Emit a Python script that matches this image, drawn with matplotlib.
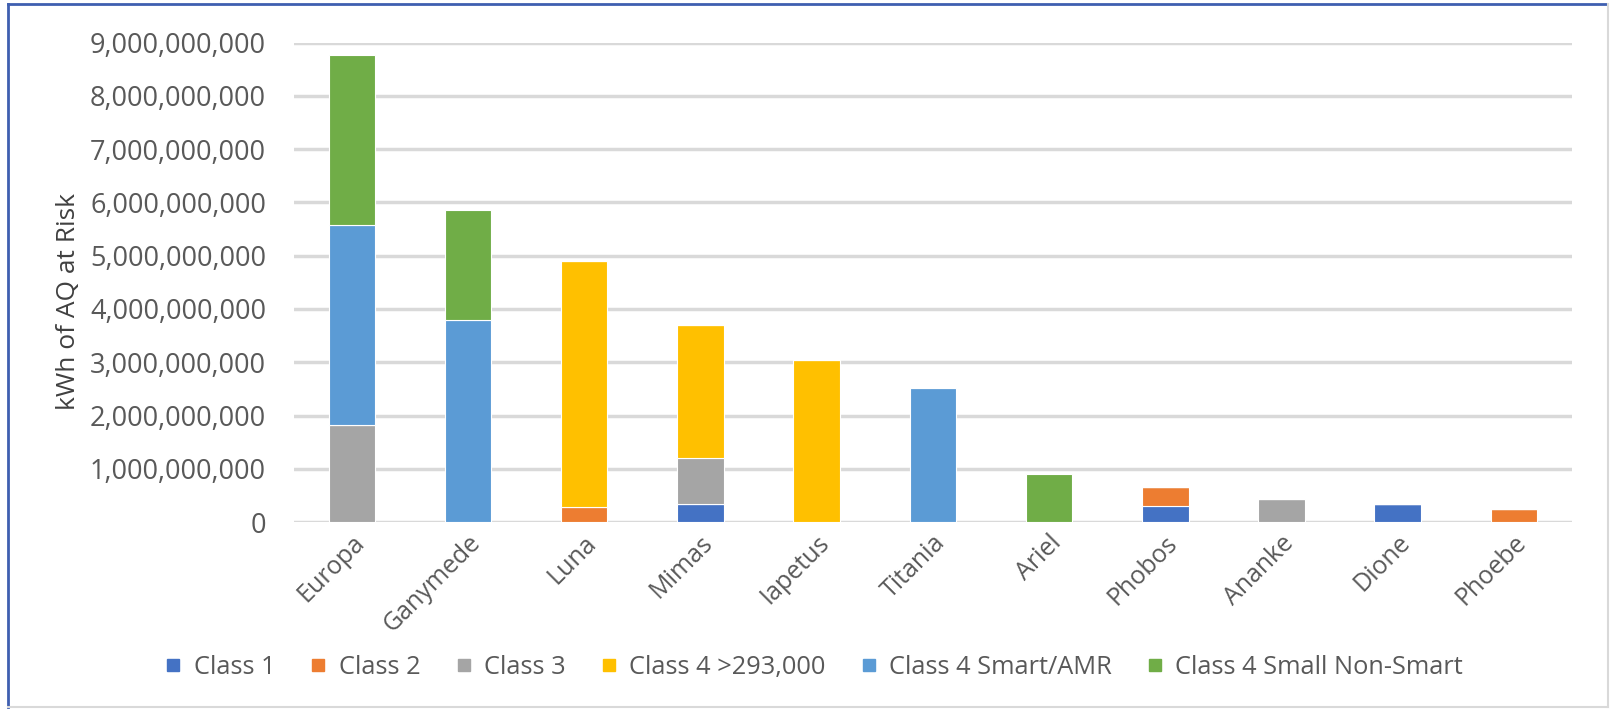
import matplotlib
matplotlib.use("Agg")
import matplotlib.pyplot as plt
from matplotlib.lines import Line2D
from matplotlib.ticker import FuncFormatter
import numpy as np

plt.rcParams['font.family'] = ['Open Sans', 'DejaVu Sans']

moons = ['Europa', 'Ganymede', 'Luna', 'Mimas', 'Iapetus', 'Titania',
         'Ariel', 'Phobos', 'Ananke', 'Dione', 'Phoebe']

# kWh of AQ at risk, per class
class1 = [0, 0, 0, 0.33e9, 0, 0, 0, 0.30e9, 0, 0.33e9, 0]
class2 = [0, 0, 0.28e9, 0, 0, 0, 0, 0.36e9, 0, 0, 0.25e9]
class3 = [1.82e9, 0, 0, 0.88e9, 0, 0, 0, 0, 0.44e9, 0, 0]
class4_large = [0, 0, 4.63e9, 2.49e9, 3.04e9, 0, 0, 0, 0, 0, 0]
class4_smart = [3.75e9, 3.79e9, 0, 0, 0, 2.52e9, 0, 0, 0, 0, 0]
class4_small = [3.20e9, 2.06e9, 0, 0, 0, 0, 0.90e9, 0, 0, 0, 0]

series = [
    ('Class 1', class1, '#4472C4'),
    ('Class 2', class2, '#ED7D31'),
    ('Class 3', class3, '#A5A5A5'),
    ('Class 4 >293,000', class4_large, '#FFC000'),
    ('Class 4 Smart/AMR', class4_smart, '#5B9BD5'),
    ('Class 4 Small Non-Smart', class4_small, '#70AD47'),
]

fig = plt.figure(figsize=(16.1, 7.09), dpi=100)
ax = fig.add_axes([0.1824, 0.2637, 0.7940, 0.6761])

x = np.arange(len(moons))
bottom = np.zeros(len(moons))
handles = []
for name, vals, col in series:
    vals = np.array(vals)
    ax.bar(x, vals, width=0.4, bottom=bottom, color=col, edgecolor='white',
           linewidth=0.8, zorder=3)
    bottom += vals
    handles.append(Line2D([], [], marker='s', linestyle='none', markersize=8,
                          markerfacecolor=col, markeredgecolor=col, label=name))

ax.set_xlim(-0.5, len(moons) - 0.5)
ax.set_ylim(0, 9e9)
ax.set_yticks(np.arange(0, 9.01e9, 1e9))
ax.yaxis.set_major_formatter(FuncFormatter(lambda v, p: f'{int(round(v)):,}'))
ax.grid(axis='y', color='#D9D9D9', linewidth=2.5, zorder=0)
for s in ax.spines.values():
    s.set_visible(False)
ax.tick_params(axis='both', length=0, colors='#595959')
ax.tick_params(axis='y', pad=20, labelsize=19.5)
ax.set_xticks(x)
ax.set_xticklabels(moons, rotation=45, ha='right', va='top',
                   rotation_mode='anchor', fontsize=18)
ax.tick_params(axis='x', pad=6)
ax.set_ylabel('kWh of AQ at Risk', fontsize=19, color='#404040')
ax.yaxis.set_label_coords(-0.166, 0.46)

fig.legend(handles=handles, loc='center', bbox_to_anchor=(0.505, 0.059),
           ncol=6, frameon=False, fontsize=18.3, labelcolor='#595959',
           handletextpad=0.4, columnspacing=1.3, handlelength=0.8)

# chart frame
fig.add_artist(Line2D([8 / 1610, 1607 / 1610], [1 - 4 / 709, 1 - 4 / 709],
                      transform=fig.transFigure, color='#3F5FB0', linewidth=2))
fig.add_artist(Line2D([8 / 1610, 8 / 1610], [1 - 4 / 709, 2 / 709],
                      transform=fig.transFigure, color='#3F5FB0', linewidth=2))
fig.add_artist(Line2D([8 / 1610, 1608 / 1610], [2 / 709, 2 / 709],
                      transform=fig.transFigure, color='#D9D9D9', linewidth=1.5))
fig.add_artist(Line2D([1608 / 1610, 1608 / 1610], [2 / 709, 1 - 4 / 709],
                      transform=fig.transFigure, color='#D9D9D9', linewidth=1.5))

fig.savefig('out.png', dpi=100)
